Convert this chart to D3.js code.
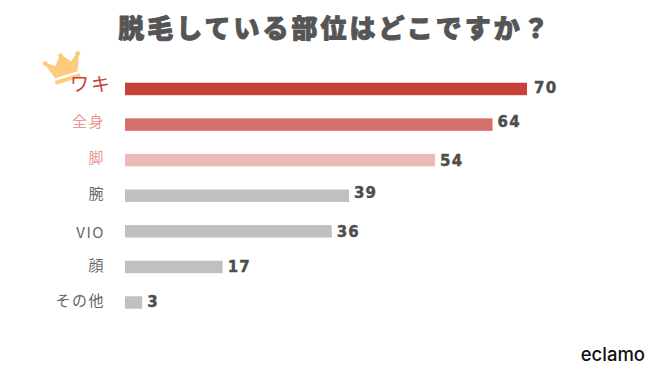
<!DOCTYPE html>
<html>
<head>
<meta charset="utf-8">
<script src="https://cdnjs.cloudflare.com/ajax/libs/d3/7.8.5/d3.min.js"></script>
<style>
  html, body { margin: 0; background: #fff; }
  svg { display: block; }
</style>
</head>
<body>
<svg id="chart" width="650" height="366"></svg>
<script>
const categories = ['ワキ', '全身', '脚', '腕', 'VIO', '顔', 'その他'];
const values = [70, 64, 54, 39, 36, 17, 3];
const barColors = ['#c8403a', '#d4706c', '#ecb9b9', '#c0c0c0', '#c0c0c0', '#c0c0c0', '#c0c0c0'];
const labelColors = ['#c8403a', '#ea9a96', '#ea9a96', '#666666', '#666666', '#666666', '#666666'];
// the labels do not sit exactly on the bar centres in the original
const labelNudge = [-5, -3, -3, -2, 1, -1, -2];
const valueNudge = [-1, -3, 0, -3, 0, 0, -1];

const JP = '"Noto Sans CJK JP", "Noto Sans", sans-serif';
const svg = d3.select('#chart');

const x = d3.scaleLinear().domain([0, 70]).range([125, 527]);
const y = d3.scaleBand().domain(categories).range([71, 320.5]).paddingInner(0.65).paddingOuter(0.33);

svg.append('text')
    .attr('x', 335).attr('y', 38)
    .attr('text-anchor', 'middle')
    .style('font-family', JP).style('font-weight', 900).style('font-size', '26px')
    .style('letter-spacing', '3px').style('fill', '#555')
    .style('stroke', '#555').style('stroke-width', 0.9)
    .text('脱毛している部位はどこですか？');

// Crown
const crown = svg.append('g').attr('transform', 'translate(65,70) rotate(-17)');
crown.append('path')
    .attr('d', 'M-17,-12 L-11,4 L11,4 L17,-12 L8,-5 L0,-15 L-8,-5 Z')
    .attr('fill', '#fdca7e').attr('stroke', '#fdca7e').attr('stroke-width', 2).attr('stroke-linejoin', 'round');
crown.selectAll('circle')
    .data([[-17, -12], [0, -15], [17, -12]])
    .join('circle')
    .attr('cx', d => d[0]).attr('cy', d => d[1]).attr('r', 2.4).attr('fill', '#fdca7e');
crown.append('rect')
    .attr('x', -13).attr('y', 7.5).attr('width', 26).attr('height', 4).attr('fill', '#fdca7e');

// Bars
svg.selectAll('.bar')
    .data(categories)
    .join('rect')
    .attr('class', 'bar')
    .attr('x', x(0))
    .attr('y', d => y(d))
    .attr('width', (d, i) => x(values[i]) - x(0))
    .attr('height', y.bandwidth())
    .attr('fill', (d, i) => barColors[i]);

// Category labels, the winner is set larger
svg.selectAll('.cat')
    .data(categories)
    .join('text')
    .attr('class', 'cat')
    .attr('x', (d, i) => i === 0 ? 112 : 105)
    .attr('y', (d, i) => y(d) + y.bandwidth() / 2 + labelNudge[i])
    .attr('dy', '0.36em')
    .attr('text-anchor', 'end')
    .style('font-family', JP).style('font-weight', 400)
    .style('font-size', (d, i) => i === 0 ? '19px' : '15px')
    .style('letter-spacing', (d, i) => i === 0 ? '2px' : '1.5px')
    .style('fill', (d, i) => labelColors[i])
    .text(d => d);

// Value labels
svg.selectAll('.val')
    .data(values)
    .join('text')
    .attr('class', 'val')
    .attr('x', d => x(d) + (d === 70 ? 7 : 5))
    .attr('y', (d, i) => y(categories[i]) + y.bandwidth() / 2 + valueNudge[i])
    .attr('dy', '0.36em')
    .style('font-family', '"DejaVu Sans", sans-serif').style('font-weight', 700).style('font-size', '15px')
    .style('letter-spacing', '1.2px').style('fill', '#4d4d4d')
    .style('stroke', '#4d4d4d').style('stroke-width', 0.4)
    .text(d => d);

svg.append('text')
    .attr('x', 645).attr('y', 361)
    .attr('text-anchor', 'end')
    .style('font-family', 'Inter, "Liberation Sans", sans-serif').style('font-weight', 500).style('font-size', '18.5px')
    .style('fill', '#111')
    .text('eclamo');
</script>
</body>
</html>
